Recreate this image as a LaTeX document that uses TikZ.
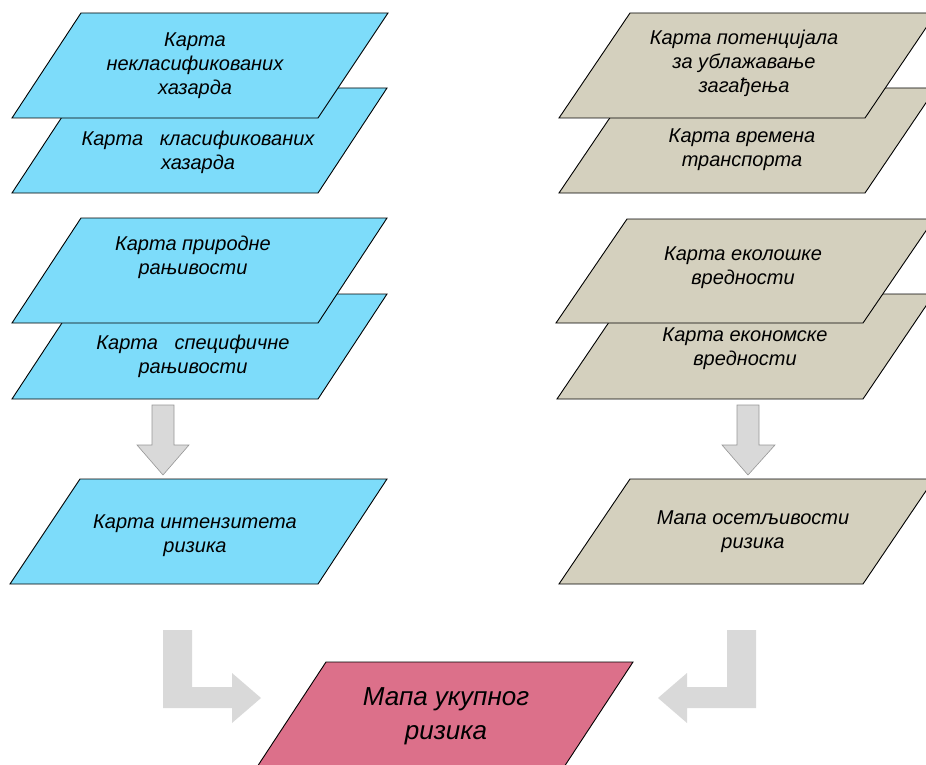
\documentclass[tikz,border=0pt]{standalone}
\usepackage{fontspec}
\setmainfont{Liberation Sans}
\definecolor{layerblue}{RGB}{125,220,250}
\definecolor{layertan}{RGB}{212,208,190}
\definecolor{layerpink}{RGB}{220,112,138}
\definecolor{arrowgray}{RGB}{217,217,217}
\definecolor{edgegray}{RGB}{150,150,150}

\begin{document}
\begin{tikzpicture}[x=1pt, y=-1pt,
    sheet/.style={draw=black, line width=0.9pt, line join=miter},
    sheettext/.style={font=\fontsize{20}{24}\selectfont\itshape, align=center, inner sep=0pt},
    downarrow/.style={draw=edgegray, fill=arrowgray, line width=0.6pt},
    bendarrow/.style={fill=arrowgray}]
    \useasboundingbox (0,0) rectangle (926,765);
    \clip (0,0) rectangle (926,765);

    \filldraw[sheet, fill=layerblue] (12,193) -- (318,193) -- (387,88) -- (81,88) -- cycle;
    \node[sheettext] (la2) at (198,152) {Карта~~ класификованих\\хазарда};
    \filldraw[sheet, fill=layerblue] (12,118) -- (318,118) -- (388,13) -- (81,13) -- cycle;
    \node[sheettext] (la1) at (195,66) {Карта\\некласификованих\\хазарда};
    \filldraw[sheet, fill=layerblue] (12,399) -- (318,399) -- (387,294) -- (81,294) -- cycle;
    \node[sheettext] (la4) at (193,356) {Карта~~ специфичне\\рањивости};
    \filldraw[sheet, fill=layerblue] (12,323) -- (318,323) -- (387,218) -- (81,218) -- cycle;
    \node[sheettext] (la3) at (193,257) {Карта природне\\рањивости};
    \filldraw[sheet, fill=layerblue] (10,584) -- (318,584) -- (387,479) -- (80,479) -- cycle;
    \node[sheettext] (la5) at (195,536) {Карта интензитета\\ризика};

    \filldraw[sheet, fill=layertan] (559,193) -- (865,193) -- (936,88) -- (630,88) -- cycle;
    \node[sheettext] (rb2) at (742,150) {Карта времена\\транспорта};
    \filldraw[sheet, fill=layertan] (559,118) -- (865,118) -- (936,13) -- (630,13) -- cycle;
    \node[sheettext] (rb1) at (744,63) {Карта потенцијала\\за ублажавање\\загађења};
    \filldraw[sheet, fill=layertan] (557,399) -- (863,399) -- (934,294) -- (628,294) -- cycle;
    \node[sheettext] (rb4) at (745,349) {Карта економске\\вредности};
    \filldraw[sheet, fill=layertan] (556,323) -- (863,323) -- (934,219) -- (627,219) -- cycle;
    \node[sheettext] (rb3) at (743,268) {Карта еколошке\\вредности};
    \filldraw[sheet, fill=layertan] (559,584) -- (863,584) -- (934,479) -- (630,479) -- cycle;
    \node[sheettext] (rb5) at (753,532) {Мапа осетљивости\\ризика};

    \filldraw[downarrow] (152,405) -- (174,405) -- (174,445) -- (189,445) -- (163,475)
        -- (137,445) -- (152,445) -- cycle;
    \filldraw[downarrow] (737,405) -- (759,405) -- (759,445) -- (775,445) -- (748,475)
        -- (722,445) -- (737,445) -- cycle;

    \filldraw[sheet, fill=layerpink] (257,767) -- (564,767) -- (633,662) -- (326,662) -- cycle;
    \node[sheettext, font=\fontsize{26}{34}\selectfont\itshape] (tot) at (446,716) {Мапа укупног\\ризика};

    \fill[bendarrow] (163,630) -- (192,630) -- (192,687) -- (232,687) -- (232,673)
        -- (261,698) -- (232,723) -- (232,708) -- (163,708) -- cycle;
    \fill[bendarrow] (756,630) -- (727,630) -- (727,687) -- (687,687) -- (687,673)
        -- (658,698) -- (687,723) -- (687,708) -- (756,708) -- cycle;
\end{tikzpicture}
\end{document}
